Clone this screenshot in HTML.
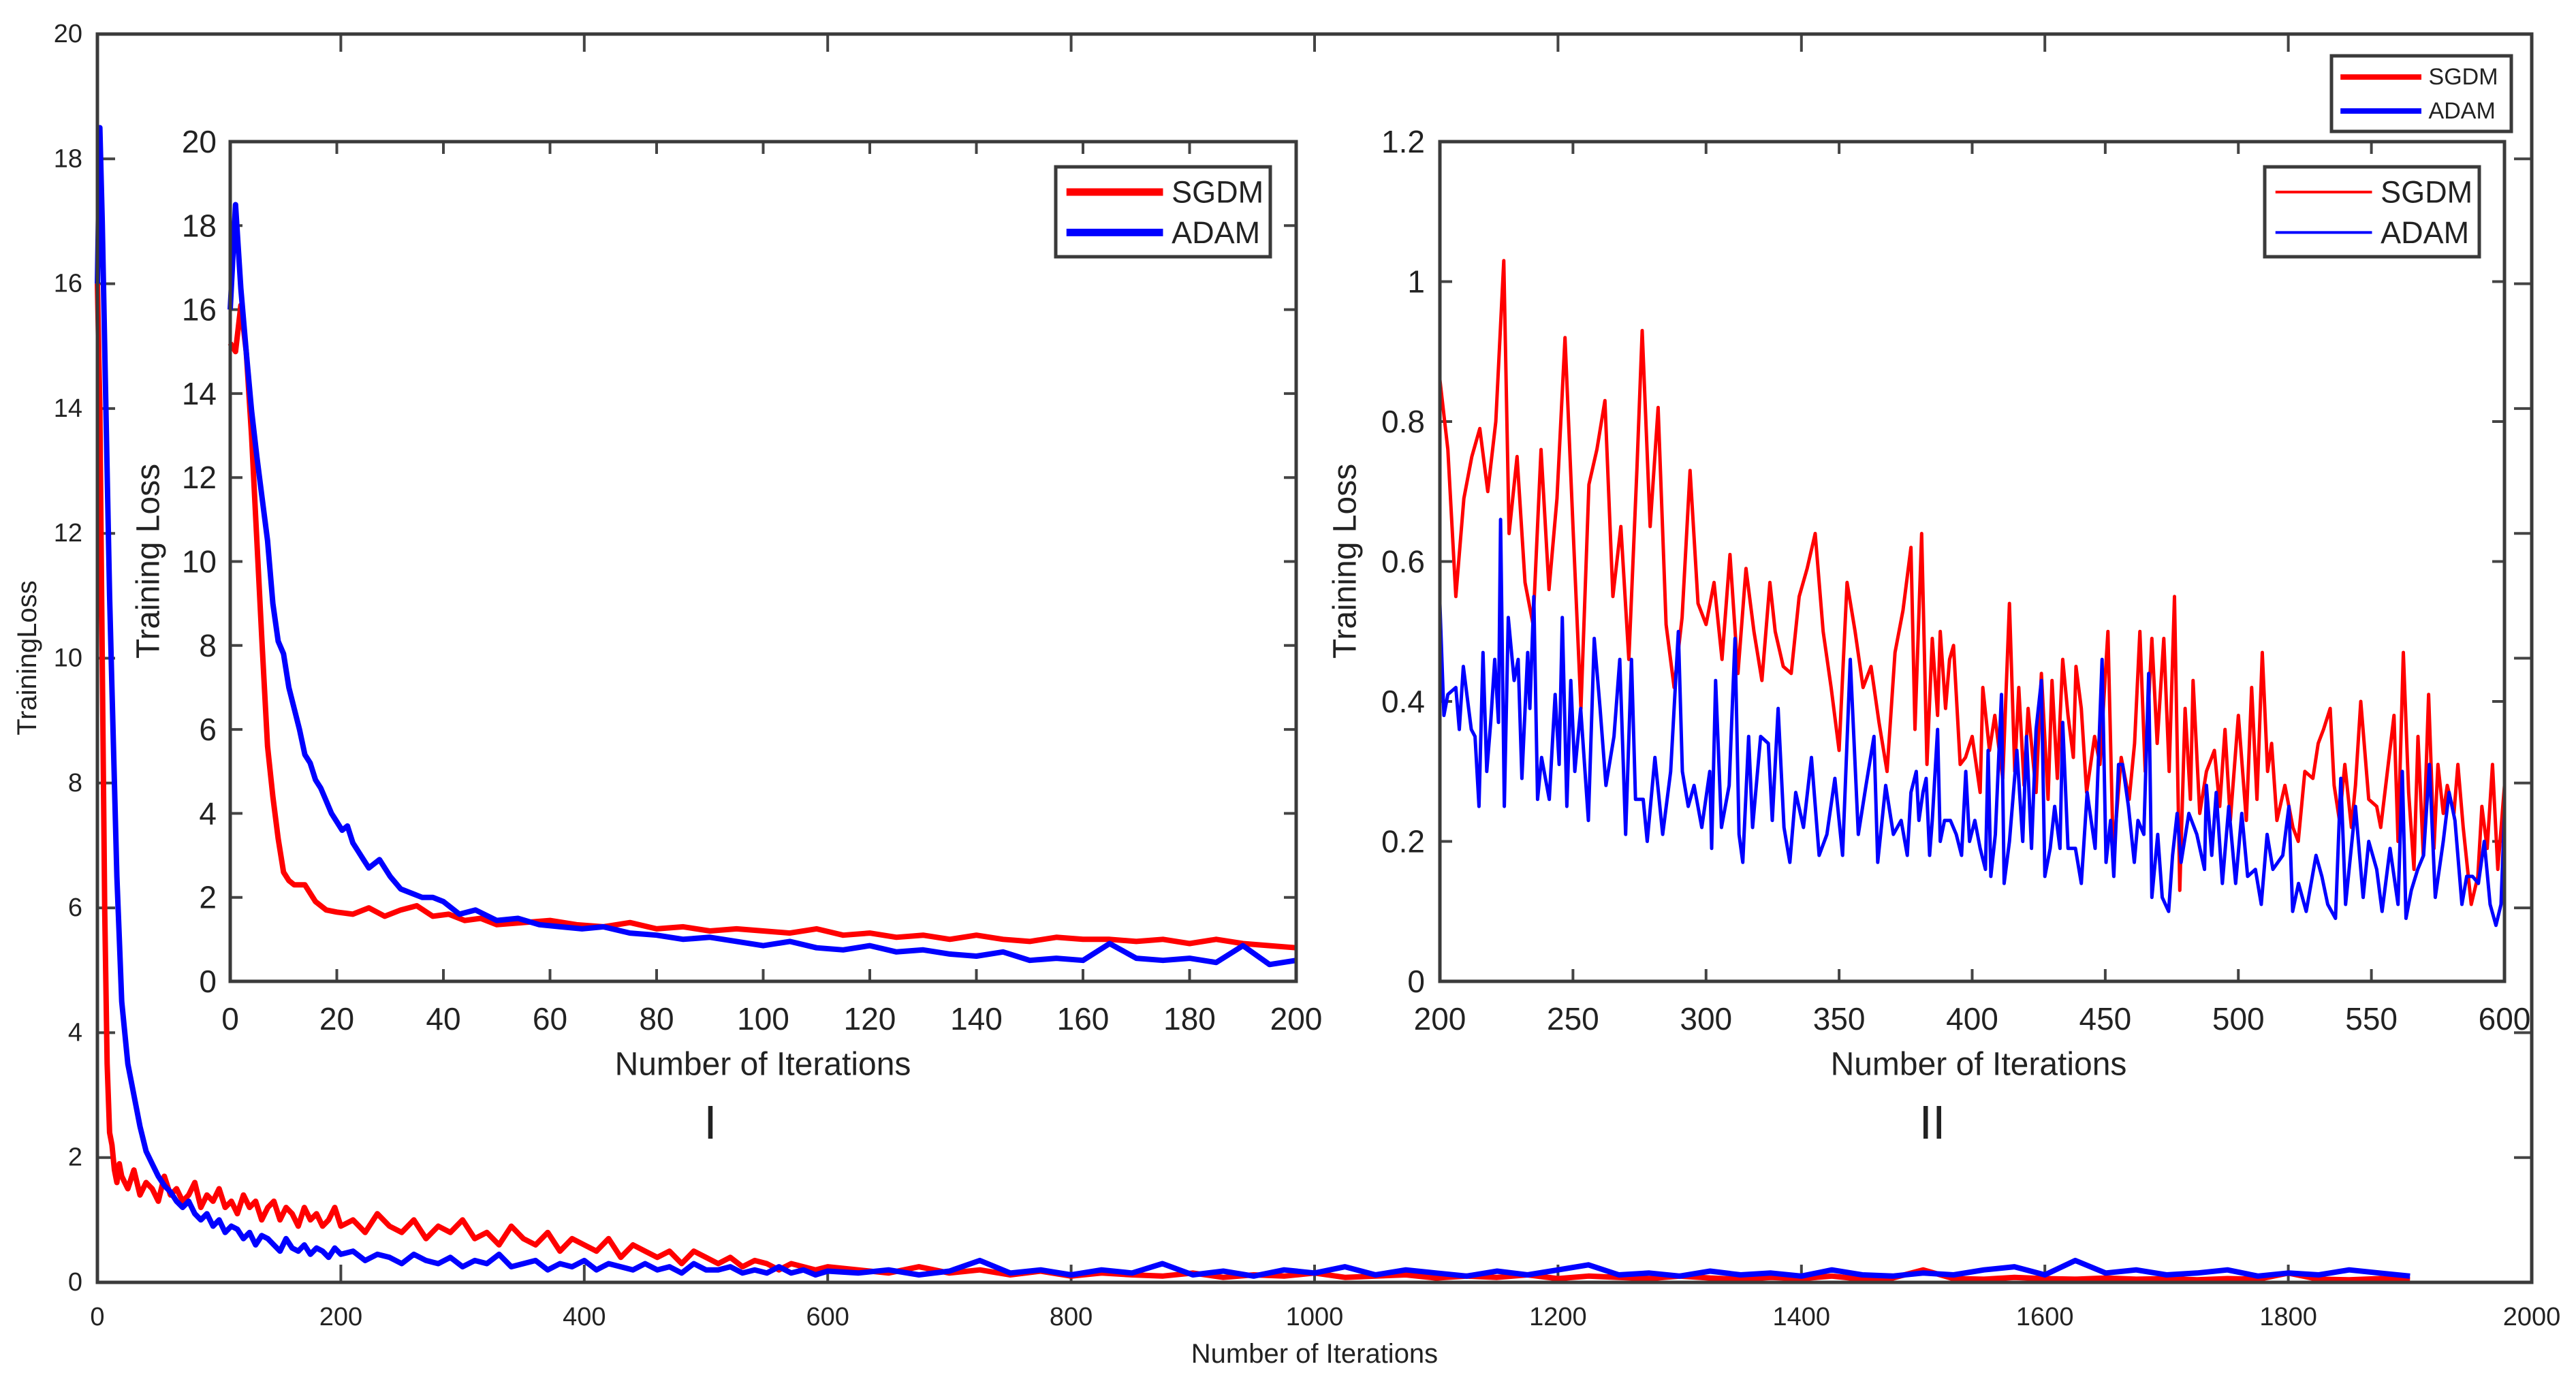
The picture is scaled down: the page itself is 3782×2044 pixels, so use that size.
<!DOCTYPE html>
<html><head><meta charset="utf-8"><style>
html,body{margin:0;padding:0;background:#fff;}
svg{display:block;}
text{font-family:"Liberation Sans",Arial,sans-serif;fill:#222;}
</style></head><body>
<svg id="fig" width="3782" height="2044" viewBox="0 0 3782 2044" xmlns="http://www.w3.org/2000/svg"></svg>
<script>
// ---------- DATA ----------
const mainSgdmX = [0,2,4,6,8,10,12,14,16,18,20,25,30,35,40,45,50,55,60,65,70,75,80,85,90,95,100,105,110,115,120,125,130,135,140,145,150,155,160,165,170,175,180,185,190,195,200,210,220,230,240,250,260,270,280,290,300,310,320,330,340,350,360,370,380,390,400,410,420,430,440,450,460,470,480,490,500,510,520,530,540,550,560,570,580,590,600,625,650,675,700,725,750,775,800,825,850,875,900,925,950,975,1000,1025,1050,1075,1100,1125,1150,1175,1200,1225,1250,1275,1300,1325,1350,1375,1400,1425,1450,1475,1500,1525,1550,1575,1600,1625,1650,1675,1700,1725,1750,1775,1800,1825,1850,1875,1900];
const mainSgdmY = [16,14,10,6,3.5,2.4,2.2,1.8,1.6,1.9,1.7,
1.5,1.8,1.4,1.6,1.5,1.3,1.7,1.4,1.5,1.3,1.4,1.6,1.2,1.4,1.3,1.5,1.2,1.3,1.1,1.4,1.2,1.3,1.0,1.2,1.3,1.0,1.2,1.1,0.9,1.2,1.0,1.1,0.9,1.0,1.2,0.9,
1.0,0.8,1.1,0.9,0.8,1.0,0.7,0.9,0.8,1.0,0.7,0.8,0.6,0.9,0.7,0.6,0.8,0.5,0.7,0.6,0.5,0.7,0.4,0.6,0.5,0.4,0.5,0.3,0.5,0.4,0.3,0.4,0.25,0.35,0.3,0.2,0.3,0.25,0.2,0.25,
0.2,0.15,0.25,0.15,0.2,0.12,0.18,0.1,0.15,0.12,0.1,0.15,0.08,0.12,0.1,0.15,0.08,0.1,0.12,0.07,0.1,0.08,0.12,0.06,0.1,0.08,0.06,0.1,0.07,0.05,0.08,0.06,0.1,0.05,0.07,0.2,0.06,0.05,0.08,0.06,0.05,0.07,0.05,0.06,0.04,0.06,0.05,0.15,0.05,0.04,0.06,0.04];
const mainAdamX = mainSgdmX;
const mainAdamY = [16,18.5,17,15,13,11,9.5,8,6.5,5.5,4.5,
3.5,3.0,2.5,2.1,1.9,1.7,1.55,1.45,1.3,1.2,1.3,1.1,1.0,1.1,0.9,1.0,0.8,0.9,0.85,0.7,0.8,0.6,0.75,0.7,0.6,0.5,0.7,0.55,0.5,0.6,0.45,0.55,0.5,0.4,0.55,0.45,
0.5,0.35,0.45,0.4,0.3,0.45,0.35,0.3,0.4,0.25,0.35,0.3,0.45,0.25,0.3,0.35,0.2,0.3,0.25,0.35,0.2,0.3,0.25,0.2,0.3,0.2,0.25,0.15,0.3,0.2,0.2,0.25,0.15,0.2,0.15,0.25,0.15,0.2,0.12,0.18,
0.15,0.2,0.12,0.18,0.35,0.15,0.2,0.12,0.2,0.15,0.3,0.12,0.18,0.1,0.2,0.15,0.25,0.12,0.2,0.15,0.1,0.18,0.12,0.2,0.28,0.12,0.15,0.1,0.18,0.12,0.15,0.1,0.2,0.12,0.1,0.15,0.12,0.2,0.25,0.12,0.35,0.15,0.2,0.12,0.15,0.2,0.1,0.15,0.12,0.2,0.15,0.1];

const i1SgdmX = [0,1,2,3,4,5,6,7,8,9,10,11,12,14,16,18,20,23,26,29,32,35,38,41,44,47,50,55,60,65,70,75,80,85,90,95,100,105,110,115,120,125,130,135,140,145,150,155,160,165,170,175,180,185,190,195,200];
const i1SgdmY = [15.2,15.0,16.1,15.0,13.0,10.5,8.0,5.6,4.4,3.4,2.6,2.4,2.3,2.3,1.9,1.7,1.65,1.6,1.75,1.55,1.7,1.8,1.55,1.6,1.45,1.5,1.35,1.4,1.45,1.35,1.3,1.4,1.25,1.3,1.2,1.25,1.2,1.15,1.25,1.1,1.15,1.05,1.1,1.0,1.1,1.0,0.95,1.05,1.0,1.0,0.95,1.0,0.9,1.0,0.9,0.85,0.8];
const i1AdamX = [0,1,2,3,4,5,6,7,8,9,10,11,12,13,14,15,16,17,18,19,20,21,22,23,24,25,26,27,28,29,30,32,34,36,38,40,43,46,50,54,58,62,66,70,75,80,85,90,95,100,105,110,115,120,125,130,135,140,145,150,155,160,165,170,175,180,185,190,195,200];
const i1AdamY = [16.0,18.5,16.5,15.0,13.6,12.5,11.5,10.5,9.0,8.1,7.8,7.0,6.5,6.0,5.4,5.2,4.8,4.6,4.3,4.0,3.8,3.6,3.7,3.3,3.1,2.9,2.7,2.8,2.9,2.7,2.5,2.2,2.1,2.0,2.0,1.9,1.6,1.7,1.45,1.5,1.35,1.3,1.25,1.3,1.15,1.1,1.0,1.05,0.95,0.85,0.95,0.8,0.75,0.85,0.7,0.75,0.65,0.6,0.7,0.5,0.55,0.5,0.9,0.55,0.5,0.55,0.45,0.85,0.4,0.5];

const i2SgdmX = [200,203,206,209,212,215,218,221,224,226,229,232,235,238,241,244,247,250,253,256,259,262,265,268,271,274,276,279,282,285,288,291,294,297,300,303,306,309,312,315,318,321,324,326,329,332,335,338,341,344,347,350,353,356,359,362,365,368,371,374,
377,378.5,381,383,385,387,388,390,391.5,393,395.5,397.5,400,403,404,406.5,408.5,411.5,414,416,417.5,419.5,421,424,426,428.5,430,432,434,436,438,439,441,443,446,448,451,453,456,459,461,463,465,467.5,469.5,472,474,476,478,480,482,483,485.5,488,491,493,495,497,500,503,505,507,509,511,512.5,514.5,517.5,520.5,522.5,525,528,530,532,534.5,536,538,540,542.5,544,546,549,552,553.5,556,558.5,560,562,564,566,567.5,569.5,571.5,573.5,575,577,578.5,581,582.5,584.5,587.5,590,591.5,593.5,595.5,597.5,600];
const i2SgdmY = [0.86,0.76,0.55,0.69,0.75,0.79,0.70,0.80,1.03,0.64,0.75,0.57,0.51,0.76,0.56,0.69,0.92,0.65,0.39,0.71,0.76,0.83,0.55,0.65,0.46,0.73,0.93,0.65,0.82,0.51,0.42,0.52,0.73,0.54,0.51,0.57,0.46,0.61,0.44,0.59,0.50,0.43,0.57,0.50,0.45,0.44,0.55,0.59,0.64,0.50,0.42,0.33,0.57,0.50,0.42,0.45,0.37,0.30,0.47,0.53,
0.62,0.36,0.64,0.31,0.49,0.38,0.50,0.39,0.46,0.48,0.31,0.32,0.35,0.27,0.42,0.33,0.38,0.29,0.54,0.30,0.42,0.28,0.39,0.27,0.44,0.26,0.43,0.29,0.46,0.38,0.32,0.45,0.39,0.27,0.35,0.31,0.50,0.18,0.32,0.26,0.34,0.50,0.30,0.49,0.34,0.49,0.30,0.55,0.13,0.39,0.26,0.43,0.24,0.30,0.33,0.25,0.36,0.23,0.38,0.23,0.42,0.26,0.47,0.30,0.34,0.23,0.28,0.22,0.20,0.30,0.29,0.34,0.36,0.39,0.28,0.23,0.31,0.22,0.28,0.40,0.26,0.25,0.22,0.30,0.38,0.20,0.47,0.27,0.16,0.35,0.18,0.41,0.19,0.31,0.24,0.28,0.24,0.31,0.22,0.11,0.15,0.25,0.19,0.31,0.16,0.28];
const i2AdamX = [200,201.5,203,206,207.3,208.8,211.8,213.2,214.7,216.2,217.6,219.1,220.6,222,222.8,224.2,225.7,227.9,229.4,230.8,233,233.8,235.3,236.7,238.2,241.1,243.3,244.8,246,247.7,249.2,250.7,252.9,255.8,258,260.2,262.4,265.4,267.6,269.8,272,273.5,276.4,277.9,280.8,283.7,286.7,289.6,291.1,293.3,295.5,298.4,301.4,302.1,303.6,305.8,308.7,310.9,312.4,313.8,316,317.5,320.5,323.4,324.9,327.1,329.3,331.5,333.7,336.6,339.6,342.5,345.4,348.4,351.3,354.2,357.2,360.1,363.1,364.5,367.5,370.4,373.3,
375.6,377,379,380,381.5,382.7,384,385,387,388,389.6,391.8,394,396,397.6,399,401,403,405,406,407,408.7,411,412,414,416.8,419,420.4,422.3,424,426,427.3,429.3,431,433,434,436,438.8,441,443.2,446.2,448.8,450.3,452,453.2,455,456.5,458.7,460.9,462.3,464.5,466.3,467.5,469.7,471.4,473.8,475.3,477,478.5,481.4,484.4,487.3,488,490,491.7,494,496.4,499,501.3,503.5,506.4,508.6,510.8,513,516.7,519,520.4,522.6,525.5,529.2,531.4,533.6,536.5,538.5,540.3,544,546.9,549,552,554,557,560,561.6,563,565,567.4,569.6,571.8,574,577,579.2,581.4,584,585.8,588,590.2,592.4,594.6,596.8,598.7,600];
const i2AdamY = [0.54,0.38,0.41,0.42,0.36,0.45,0.36,0.35,0.25,0.47,0.30,0.37,0.46,0.37,0.66,0.25,0.52,0.43,0.46,0.29,0.47,0.39,0.55,0.26,0.32,0.26,0.41,0.31,0.52,0.25,0.43,0.30,0.39,0.23,0.49,0.39,0.28,0.35,0.46,0.21,0.46,0.26,0.26,0.20,0.32,0.21,0.30,0.50,0.30,0.25,0.28,0.22,0.30,0.19,0.43,0.22,0.28,0.49,0.21,0.17,0.35,0.22,0.35,0.34,0.23,0.39,0.22,0.17,0.27,0.22,0.32,0.18,0.21,0.29,0.18,0.46,0.21,0.28,0.35,0.17,0.28,0.21,0.23,
0.18,0.27,0.30,0.23,0.27,0.29,0.18,0.23,0.36,0.20,0.23,0.23,0.21,0.18,0.30,0.20,0.23,0.19,0.16,0.33,0.15,0.21,0.41,0.14,0.20,0.33,0.20,0.35,0.19,0.36,0.43,0.15,0.19,0.25,0.19,0.37,0.19,0.19,0.14,0.27,0.19,0.46,0.17,0.23,0.15,0.31,0.31,0.25,0.17,0.23,0.21,0.44,0.12,0.21,0.12,0.10,0.18,0.24,0.17,0.24,0.21,0.16,0.28,0.18,0.27,0.14,0.25,0.14,0.24,0.15,0.16,0.11,0.21,0.16,0.18,0.25,0.10,0.14,0.10,0.18,0.15,0.11,0.09,0.29,0.11,0.25,0.12,0.20,0.16,0.10,0.19,0.11,0.30,0.09,0.13,0.16,0.18,0.31,0.12,0.20,0.27,0.23,0.11,0.15,0.15,0.14,0.20,0.11,0.08,0.11,0.24];

const mainXTicks = [0,200,400,600,800,1000,1200,1400,1600,1800,2000];
const mainYTicks = [0,2,4,6,8,10,12,14,16,18,20];
const i1XTicks = [0,20,40,60,80,100,120,140,160,180,200];
const i1YTicks = [0,2,4,6,8,10,12,14,16,18,20];
const i2XTicks = [200,250,300,350,400,450,500,550,600];
const i2YTicks = [0,0.2,0.4,0.6,0.8,1,1.2];

// ---------- DRAWING ----------
const NS = "http://www.w3.org/2000/svg";
const svg = document.getElementById('fig');
function mk(tag, attrs, parent){ const e=document.createElementNS(NS,tag); for(const k in attrs) e.setAttribute(k,attrs[k]); (parent||svg).appendChild(e); return e; }
function scale(d0,d1,r0,r1){ return v => r0 + (v-d0)/(d1-d0)*(r1-r0); }

function drawAxes(g, cfg){
  const {L,T,R,B,xs,ys,xt,yt,tl,fs,lw,labOff,xLabY} = cfg;
  const bg = mk('rect',{x:L,y:T,width:R-L,height:B-T,fill:'#fff'},g);
  
  
  xt.forEach(v=>{
    const x = xs(v);
    const t1 = mk('line',{x1:x,y1:B,x2:x,y2:B-tl,stroke:'#444','stroke-width':lw-1},g);
    
    
    const t2 = mk('line',{x1:x,y1:T,x2:x,y2:T+tl,stroke:'#444','stroke-width':lw-1},g);
    
    
    const lab = mk('text',{x:x,y:xLabY,'font-size':fs,'text-anchor':'middle','dominant-baseline':'central'},g);
    lab.textContent = String(v);
    
    
  });
  yt.forEach(v=>{
    const y = ys(v);
    const t1 = mk('line',{x1:L,y1:y,x2:L+tl,y2:y,stroke:'#444','stroke-width':lw-1},g);
    
    
    const t2 = mk('line',{x1:R,y1:y,x2:R-tl,y2:y,stroke:'#444','stroke-width':lw-1},g);
    
    
    const lab = mk('text',{x:L-labOff,y:y,'font-size':fs,'text-anchor':'end','dominant-baseline':'central'},g);
    lab.textContent = String(v);
    
    
  });
}
function drawBox(g,cfg){
  const box = mk('rect',{x:cfg.L,y:cfg.T,width:cfg.R-cfg.L,height:cfg.B-cfg.T,fill:'none',stroke:'#3a3a3a','stroke-width':cfg.lw},g);
  
  
}
function drawLine(g, xsArr, ysArr, xs, ys, color, w, name){
  const pts = xsArr.map((x,i)=> xs(x).toFixed(1)+','+ys(ysArr[i]).toFixed(1)).join(' ');
  const p = mk('polyline',{points:pts,fill:'none',stroke:color,'stroke-width':w,'stroke-linejoin':'round'},g);
  
  
}
function drawLegend(g, x, y, w, h, lw, lineW, fs, name){
  const r = mk('rect',{x:x,y:y,width:w,height:h,fill:'#fff',stroke:'#3a3a3a','stroke-width':lw},g);
  
  
  const items = [['SGDM','#ff0000'],['ADAM','#0000ff']];
  items.forEach((it,i)=>{
    const yy = y + h*(0.28 + i*0.45);
    const l = mk('line',{x1:x+w*0.05,y1:yy,x2:x+w*0.5,y2:yy,stroke:it[1],'stroke-width':lineW},g);
    
    
    const t = mk('text',{x:x+w*0.54,y:yy,'font-size':fs,'dominant-baseline':'central'},g);
    t.textContent = it[0];
    
    
  });
}
function label(txt, x, y, fs, name, rot){
  const t = mk('text',{x:x,y:y,'font-size':fs,'text-anchor':'middle','dominant-baseline':'central'});
  if(rot) t.setAttribute('transform','rotate(-90 '+x+' '+y+')');
  t.textContent = txt;
  
  
}

// Main axes
const M = {name:'main',L:143,T:50,R:3717,B:1883,tl:26,fs:38,lw:5,labOff:22,xLabY:1934};
M.xs = scale(0,2000,M.L,M.R); M.ys = scale(0,20,M.B,M.T); M.xt = mainXTicks; M.yt = mainYTicks;
const gMain = mk('g',{});


drawAxes(gMain, M);
drawLine(gMain, mainSgdmX, mainSgdmY, M.xs, M.ys, '#ff0000', 8, 'main-sgdm-line');
drawLine(gMain, mainAdamX, mainAdamY, M.xs, M.ys, '#0000ff', 8, 'main-adam-line');
drawBox(gMain, M);
label('Number of Iterations', 1930, 1988, 40, 'main-x-axis-title');
label('TrainingLoss', 40, 966, 40, 'main-y-axis-title', true);
drawLegend(gMain, 3423, 82, 264, 111, 5, 8, 34, 'main-legend');

// Inset I
const A = {name:'inset-1',L:338,T:208,R:1903,B:1441,tl:18,fs:46,lw:5,labOff:20,xLabY:1496};
A.xs = scale(0,200,A.L,A.R); A.ys = scale(0,20,A.B,A.T); A.xt = i1XTicks; A.yt = i1YTicks;
const gA = mk('g',{});


drawAxes(gA, A);
drawLine(gA, i1SgdmX, i1SgdmY, A.xs, A.ys, '#ff0000', 8, 'inset-1-sgdm-line');
drawLine(gA, i1AdamX, i1AdamY, A.xs, A.ys, '#0000ff', 8, 'inset-1-adam-line');
drawBox(gA, A);
drawLegend(gA, 1550, 245, 315, 132, 5, 11, 45, 'inset-1-legend');
label('Number of Iterations', 1120, 1563, 48, 'inset-1-x-axis-title');
label('Training Loss', 218, 824, 48, 'inset-1-y-axis-title', true);
label('I', 1043, 1648, 70, 'inset-1-caption');

// Inset II
const Bx = {name:'inset-2',L:2114,T:208,R:3677,B:1441,tl:18,fs:46,lw:5,labOff:22,xLabY:1496};
Bx.xs = scale(200,600,Bx.L,Bx.R); Bx.ys = scale(0,1.2,Bx.B,Bx.T); Bx.xt = i2XTicks; Bx.yt = i2YTicks;
const gB = mk('g',{});


drawAxes(gB, Bx);
drawLine(gB, i2SgdmX, i2SgdmY, Bx.xs, Bx.ys, '#ff0000', 5, 'inset-2-sgdm-line');
drawLine(gB, i2AdamX, i2AdamY, Bx.xs, Bx.ys, '#0000ff', 5, 'inset-2-adam-line');
drawBox(gB, Bx);
drawLegend(gB, 3325, 245, 315, 132, 5, 4, 45, 'inset-2-legend');
label('Number of Iterations', 2905, 1563, 48, 'inset-2-x-axis-title');
label('Training Loss', 1975, 824, 48, 'inset-2-y-axis-title', true);
label('II', 2837, 1648, 70, 'inset-2-caption');
</script>
</body></html>
